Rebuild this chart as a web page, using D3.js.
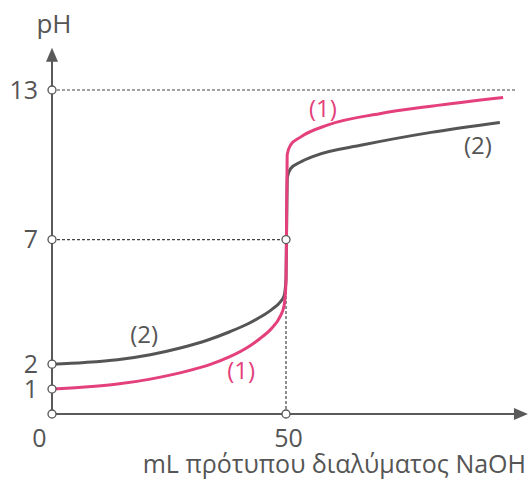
<!DOCTYPE html>
<html><head><meta charset="utf-8">
<script src="https://cdn.jsdelivr.net/npm/d3@7"></script>
<style>
html,body{margin:0;padding:0;background:#fff;}
svg text{font-family:"Open Sans",sans-serif;}
</style>
</head><body>
<div id="chart"></div>
<script>
// Data
const xTicks = [0, 50];
const yTicks = [1, 2, 7, 13];
const xLabel = "mL πρότυπου διαλύματος NaOH";
const yLabel = "pH";
const vol1 = [0, 7, 14, 21, 28, 34, 38, 42, 44.4, 47, 48.7, 49.6, 50, 50.1, 50.25, 51, 53, 59, 70, 81, 96.4];
const ph1  = [1.0, 1.08, 1.2, 1.4, 1.68, 2.0, 2.3, 2.7, 3.02, 3.45, 3.9, 4.35, 5.3, 7, 10.4, 10.8, 11.1, 11.6, 12.05, 12.35, 12.7];
const vol2 = [0, 7, 14, 21, 27.4, 33, 38, 42, 44.4, 47, 48.7, 49.6, 50, 50.1, 50.3, 51, 53, 56, 66.5, 81, 95.7];
const ph2  = [2.0, 2.07, 2.18, 2.38, 2.65, 2.95, 3.3, 3.63, 3.88, 4.2, 4.48, 4.75, 5.4, 7, 9.5, 9.85, 10.1, 10.35, 10.8, 11.3, 11.7];
const seriesNames = ["(1)", "(2)"];

const W = 530, H = 480;
const pink = "#e4407c", grey = "#555555", axisCol = "#5a5a5a", textCol = "#555";
const svg = d3.select("#chart").append("svg").attr("width", W).attr("height", H);

const x = d3.scaleLinear().domain([0, 50]).range([52, 286]);
const y = d3.scaleLinear().domain([0, 13]).range([414, 90]);

// guide dotted lines
const g = svg.append("g");
const dash = "3,2";
g.append("line").attr("x1", x(0)).attr("x2", x(99)).attr("y1", y(13)).attr("y2", y(13))
  .attr("stroke", "#444").attr("stroke-width", 1.2).attr("stroke-dasharray", dash);
g.append("line").attr("x1", x(0)).attr("x2", x(50)).attr("y1", y(7)).attr("y2", y(7))
  .attr("stroke", "#444").attr("stroke-width", 1.2).attr("stroke-dasharray", dash);
g.append("line").attr("x1", x(50)).attr("x2", x(50)).attr("y1", y(0)).attr("y2", y(7))
  .attr("stroke", "#444").attr("stroke-width", 1.2).attr("stroke-dasharray", dash);

// axes lines with arrows
const xTip = x(101.7), yTip = y(14.7);
svg.append("line").attr("x1", x(0)).attr("x2", xTip - 8).attr("y1", y(0)).attr("y2", y(0))
  .attr("stroke", axisCol).attr("stroke-width", 2);
svg.append("line").attr("x1", x(0)).attr("x2", x(0)).attr("y1", y(0)).attr("y2", yTip + 8)
  .attr("stroke", axisCol).attr("stroke-width", 2);
svg.append("path").attr("d", `M${xTip},${y(0)} L${xTip-14},${y(0)-6} L${xTip-14},${y(0)+6} Z`).attr("fill", axisCol);
svg.append("path").attr("d", `M${x(0)},${yTip} L${x(0)-6},${yTip+14} L${x(0)+6},${yTip+14} Z`).attr("fill", axisCol);

// axis tick labels via d3 axes
const yAxis = svg.append("g").attr("transform", `translate(${x(0)},0)`)
  .call(d3.axisLeft(y).tickValues(yTicks).tickSize(0).tickPadding(14).tickFormat(d3.format("d")));
yAxis.select(".domain").remove();
yAxis.selectAll("text").attr("font-size", 25).attr("fill", textCol).attr("font-family", "Open Sans");

const xAxis = svg.append("g").attr("transform", `translate(0,${y(0)})`)
  .call(d3.axisBottom(x).tickValues(xTicks).tickSize(0).tickPadding(15).tickFormat(d3.format("d")));
xAxis.select(".domain").remove();
xAxis.selectAll("text").attr("font-size", 25).attr("fill", textCol).attr("font-family", "Open Sans")
  .attr("dx", d => d === 0 ? -13 : 2);

// axis titles
svg.append("text").attr("x", 54).attr("y", 33).attr("text-anchor", "middle")
  .attr("font-size", 26).attr("fill", textCol).text(yLabel);
svg.append("text").attr("x", 526).attr("y", 473).attr("text-anchor", "end")
  .attr("font-size", 25).attr("fill", textCol).text(xLabel);

// curves
const line = d3.line().x(d => x(d[0])).y(d => y(d[1])).curve(d3.curveMonotoneX);
svg.append("path").datum(vol2.map((v, i) => [v, ph2[i]])).attr("d", line)
  .attr("fill", "none").attr("stroke", grey).attr("stroke-width", 3);
svg.append("path").datum(vol1.map((v, i) => [v, ph1[i]])).attr("d", line)
  .attr("fill", "none").attr("stroke", pink).attr("stroke-width", 3);

// open circles
const circ = [[0,13],[0,7],[0,2],[0,1],[0,0],[50,7],[50,0]];
svg.selectAll("circle.m").data(circ).enter().append("circle")
  .attr("cx", d => x(d[0])).attr("cy", d => y(d[1])).attr("r", 4)
  .attr("fill", "#fff").attr("stroke", "#555").attr("stroke-width", 1.3);

// series labels
const lab = [
  {t: seriesNames[0], v: 57.9, p: 12.16, c: pink},
  {t: seriesNames[1], v: 91, p: 10.67, c: grey},
  {t: seriesNames[1], v: 19.7, p: 3.09, c: grey},
  {t: seriesNames[0], v: 40.4, p: 1.645, c: pink}
];
svg.selectAll("text.lab").data(lab).enter().append("text")
  .attr("x", d => x(d.v)).attr("y", d => y(d.p)).attr("text-anchor", "middle")
  .attr("dominant-baseline", "middle")
  .attr("font-size", 24).attr("fill", d => d.c).text(d => d.t);
</script>
</body></html>
